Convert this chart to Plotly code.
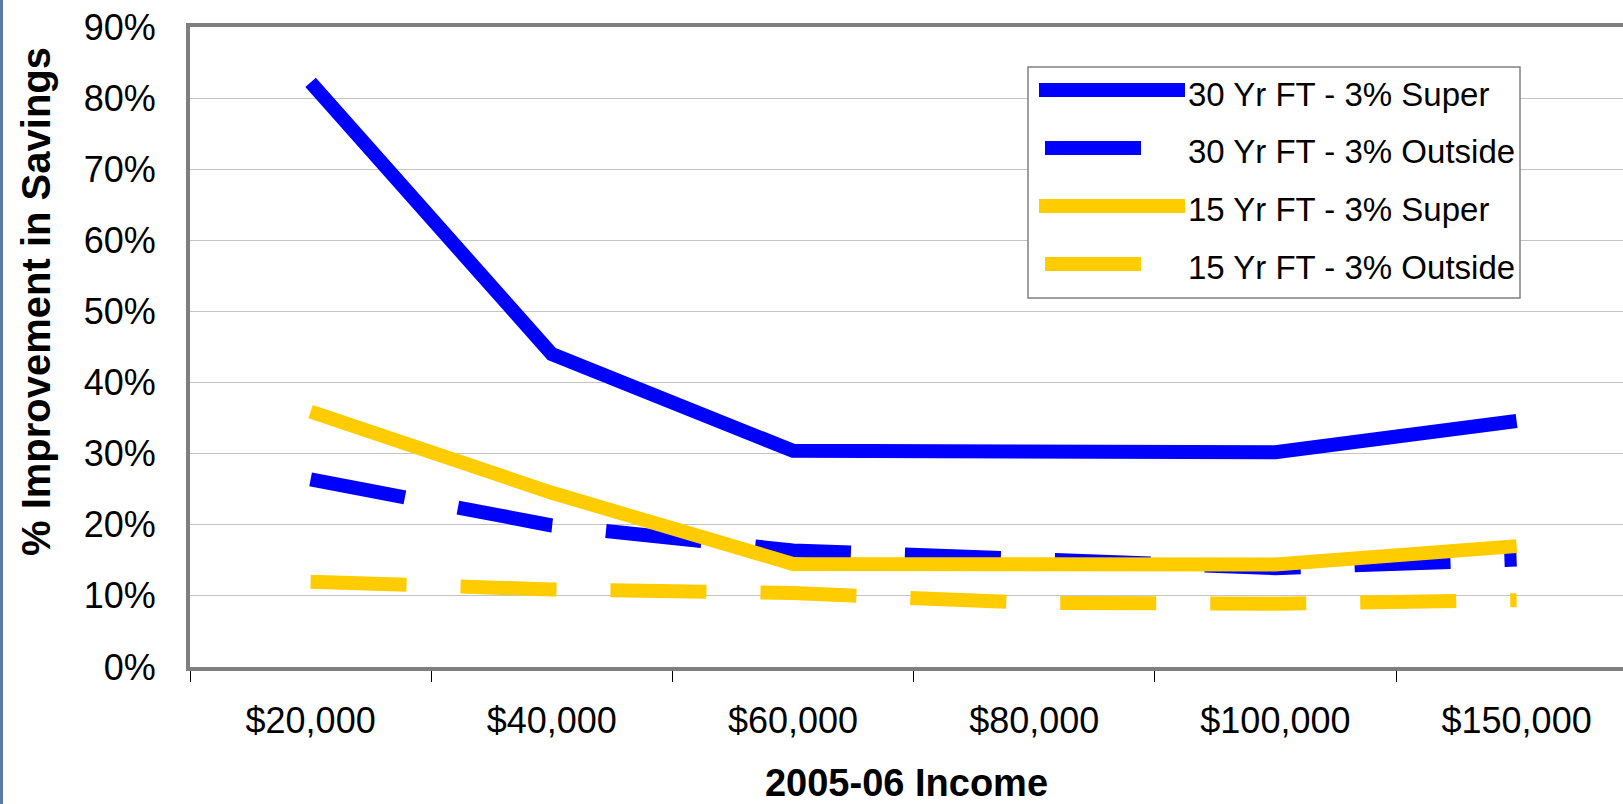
import plotly.graph_objects as go

# Income bands (x categories)
income = ["$20,000", "$40,000", "$60,000", "$80,000", "$100,000", "$150,000"]

# % improvement in savings for each scenario
super_30yr = [82.2, 44.0, 30.4, 30.3, 30.2, 34.6]
outside_30yr = [26.4, 19.9, 16.4, 15.3, 13.9, 15.1]
super_15yr = [35.9, 24.5, 14.5, 14.5, 14.4, 17.0]
outside_15yr = [12.0, 10.9, 10.4, 9.0, 8.9, 9.4]

series_names = [
    "30 Yr FT - 3% Super",
    "30 Yr FT - 3% Outside",
    "15 Yr FT - 3% Super",
    "15 Yr FT - 3% Outside",
]
series_values = [super_30yr, outside_30yr, super_15yr, outside_15yr]
series_colors = ["#0000FF", "#0000FF", "#FFCC00", "#FFCC00"]
series_dashed = [False, True, False, True]

FONT = "Liberation Sans, Arial, Helvetica, sans-serif"
W, H = 1623, 804
L, T, B = 190, 27, 137
PW, PH = W - L, H - T - B
STEP = 241.2  # pixel width of one category band

def fx(px):
    return (px - L) / PW

def fy(py):
    return (H - B - py) / PH

fig = go.Figure()
for name, vals, col, dashed in zip(series_names, series_values, series_colors, series_dashed):
    fig.add_trace(go.Scatter(
        x=income, y=vals, name=name, mode="lines",
        line=dict(color=col, width=14, dash="96px,54px" if dashed else "solid"),
        showlegend=False, hoverinfo="skip",
    ))

# Hand-built legend box in the upper right
shapes = [
    dict(type="rect", xref="paper", yref="paper",
         x0=fx(1028), x1=fx(1520), y0=fy(298), y1=fy(67),
         line=dict(color="#808080", width=1.5), fillcolor="white", layer="above"),
    # thin slide border at the far left
    dict(type="rect", xref="paper", yref="paper",
         x0=fx(0), x1=fx(3), y0=fy(H), y1=fy(0),
         line=dict(width=0), fillcolor="#5B7BA5", layer="above"),
]
annotations = []
row_line_y = [90, 148, 206, 264]
row_text_y = [94, 151, 210, 267]
for name, col, dashed, ly, ty in zip(series_names, series_colors, series_dashed, row_line_y, row_text_y):
    x0, x1 = (1045, 1141) if dashed else (1039, 1185)
    shapes.append(dict(type="line", xref="paper", yref="paper",
                       x0=fx(x0), x1=fx(x1), y0=fy(ly), y1=fy(ly),
                       line=dict(color=col, width=14), layer="above"))
    annotations.append(dict(xref="paper", yref="paper", x=fx(1186), y=fy(ty),
                            xanchor="left", yanchor="middle", text=name, showarrow=False,
                            font=dict(family=FONT, size=33, color="black")))

# Vertical axis title, placed a little above the plot's mid-height
annotations.append(dict(xref="paper", yref="paper", x=fx(36), y=fy(302),
                        xanchor="center", yanchor="middle", textangle=-90,
                        text="<b>% Improvement in Savings</b>", showarrow=False,
                        font=dict(family=FONT, size=40, color="black")))

fig.update_layout(
    width=W, height=H,
    margin=dict(l=L, r=0, t=T, b=B, pad=0),
    paper_bgcolor="white", plot_bgcolor="white",
    font=dict(family=FONT, color="black"),
    shapes=shapes, annotations=annotations,
    showlegend=False,
)

fig.update_xaxes(
    type="category",
    range=[-0.5, -0.5 + PW / STEP],
    tickson="boundaries", ticks="outside", ticklen=11, tickwidth=1, tickcolor="black",
    showgrid=False, zeroline=False,
    showline=True, linecolor="#7F7F7F", linewidth=4, mirror=True,
    tickfont=dict(family=FONT, size=36, color="black"),
    ticklabelstandoff=19,
    title=dict(text="<b>2005-06 Income</b>", font=dict(family=FONT, size=38, color="black"),
               standoff=37),
)
fig.update_yaxes(
    range=[0, 90], dtick=10, ticksuffix="%",
    ticks="", showgrid=True, gridcolor="#C4C4C4", gridwidth=1, zeroline=False,
    showline=True, linecolor="#7F7F7F", linewidth=4,
    tickfont=dict(family=FONT, size=36, color="black"),
    ticklabelstandoff=23,
)

fig.write_html("out.html")
